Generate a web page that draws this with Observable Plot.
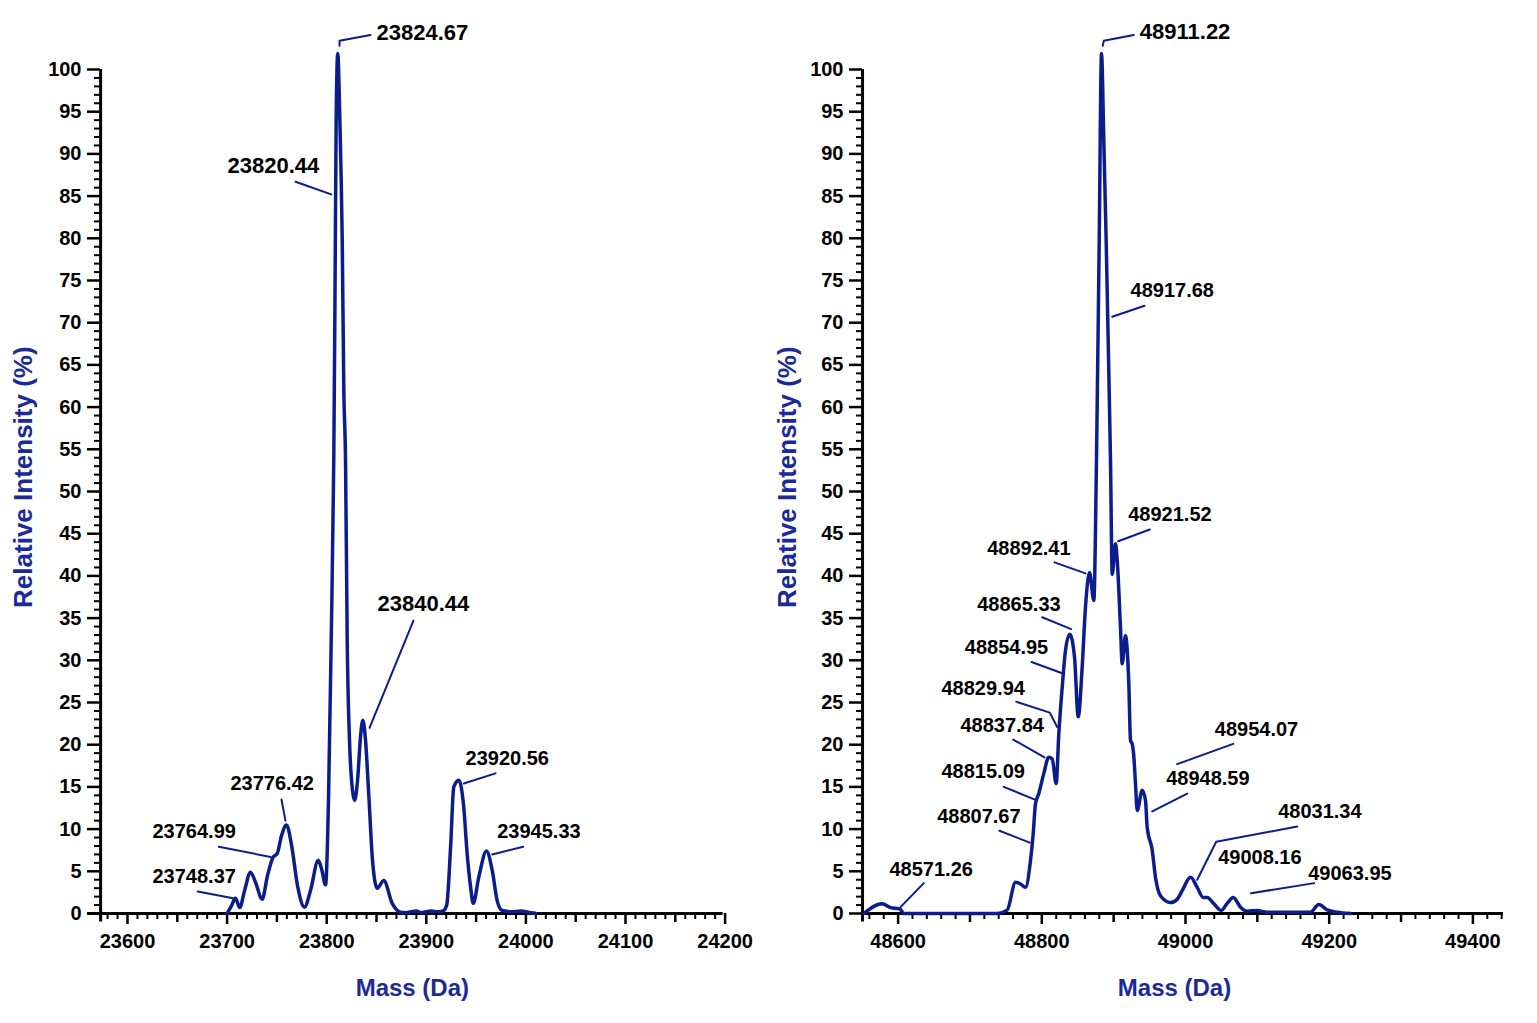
<!DOCTYPE html>
<html>
<head>
<meta charset="utf-8">
<script src="https://cdn.jsdelivr.net/npm/d3@7"></script>
<script src="https://cdn.jsdelivr.net/npm/@observablehq/plot@0.6"></script>
<style>
  html, body { margin: 0; padding: 0; background: #fff; }
  #wrap { position: relative; width: 1537px; height: 1023px; }
  #left, #right { position: absolute; top: 0; }
  #left { left: 0; }
  #right { left: 768px; }
</style>
</head>
<body>
<div id="wrap"><div id="left"></div><div id="right"></div></div>
<script>
// ---------- Left spectrum (~23.8 kDa) ----------
const leftMass = [23700.0, 23704.4, 23708.4, 23712.7, 23717.5, 23723.5, 23728.5, 23735.2, 23740.6, 23746.3,
  23750.3, 23754.6, 23759.6, 23764.7, 23770.7, 23777.7, 23783.7, 23791.5, 23794.8, 23798.8,
  23801.8, 23804.5, 23807.1, 23808.3, 23809.5, 23811.1, 23813.2, 23815.6, 23817.2, 23818.9,
  23820.6, 23822.9, 23825.9, 23828.0, 23831.0, 23834.0, 23836.3, 23839.0, 23842.0, 23846.0,
  23850.7, 23857.3, 23865.8, 23874.0, 23880.0, 23890.0, 23895.0, 23905.0, 23912.0, 23917.0,
  23920.5, 23924.4, 23927.6, 23932.6, 23937.6, 23941.0, 23944.4, 23947.1, 23952.7, 23960.4,
  23966.2, 23971.2, 23976.2, 23985.0, 23995.0, 24005.0, 24009.6];
const leftIntensity = [0.0, 0.9, 1.8, 0.7, 2.7, 4.9, 3.7, 1.7, 4.5, 6.7,
  7.1, 9.2, 10.5, 8.1, 3.3, 0.75, 2.7, 6.3, 5.3, 3.4,
  13.4, 32.3, 53.7, 72.6, 94.0, 101.9, 94.0, 79.7, 62.0, 53.7,
  32.3, 20.5, 14.6, 13.4, 15.8, 21.0, 22.9, 20.5, 14.6, 6.3,
  3.0, 3.9, 1.2, 0.15, 0.1, 0.3, 0.1, 0.3, 0.2, 0.3,
  1.0, 7.9, 15.0, 15.8, 12.6, 7.1, 3.2, 1.2, 4.3, 7.4,
  5.1, 1.5, 0.35, 0.2, 0.3, 0.1, 0.04];

// peak labels: text, label x (mass), label y (intensity)
const leftBigLabels = ["23824.67", "23820.44", "23840.44"];
const leftBigLabelX = [23850.0, 23700.4, 23851.0];
const leftBigLabelY = [104.3, 88.6, 36.7];
const leftSmallLabels = ["23776.42", "23764.99", "23748.37", "23920.56", "23945.33"];
const leftSmallLabelX = [23703.4, 23625.1, 23625.1, 23939.4, 23971.2];
const leftSmallLabelY = [15.4, 9.7, 4.4, 18.4, 9.7];
// leader lines (polyline id, mass, intensity)
const leftLeaderId = [0, 0, 0, 1, 1, 2, 2, 3, 3, 4, 4, 5, 5, 6, 6, 7, 7];
const leftLeaderX = [23812.9, 23812.9, 23844.0, 23768.7, 23804.5, 23887.1, 23843.0, 23754.6, 23758.6,
  23691.7, 23743.6, 23670.6, 23706.1, 23937.6, 23969.5, 23966.2, 23997.3];
const leftLeaderY = [102.8, 103.4, 104.1, 86.7, 85.2, 34.7, 22.0, 13.5, 11.0,
  7.9, 6.7, 2.6, 1.8, 15.4, 16.6, 7.0, 7.9];

// ---------- Right spectrum (~48.9 kDa) ----------
const rightMass = [48552.3, 48577.9, 48589.4, 48602.4, 48607.9, 48737.9, 48751.8, 48763.4, 48770.4, 48777.3,
  48784.3, 48788.0, 48791.2, 48795.8, 48802.8, 48809.7, 48814.5, 48820.0, 48823.7, 48828.4,
  48833.0, 48839.0, 48845.5, 48850.7, 48856.2, 48860.8, 48866.4, 48872.4, 48876.1, 48879.9,
  48883.1, 48886.3, 48889.6, 48893.3, 48895.6, 48898.0, 48902.6, 48905.0, 48909.5, 48911.9,
  48916.5, 48918.9, 48921.1, 48923.5, 48925.8, 48928.0, 48930.4, 48932.8, 48939.7, 48944.3,
  48946.7, 48953.7, 48958.2, 48965.2, 48979.1, 48988.5, 48995.4, 49007.0, 49016.3, 49024.6,
  49030.2, 49039.4, 49049.7, 49058.0, 49066.4, 49076.6, 49085.9, 49099.8, 49113.7, 49174.0,
  49185.5, 49197.2, 49211.1, 49229.6];
const rightIntensity = [0.0, 1.15, 0.7, 0.55, 0.0, 0.0, 0.4, 3.7, 3.5, 3.1,
  6.3, 9.4, 13.0, 14.2, 16.6, 18.5, 18.3, 15.4, 21.3, 26.8,
  31.2, 33.1, 30.4, 23.3, 29.2, 36.3, 40.4, 37.1, 53.7, 79.7,
  101.9, 91.6, 79.7, 64.0, 53.7, 40.2, 43.8, 41.8, 33.9, 29.6,
  32.9, 31.2, 27.2, 20.5, 20.1, 18.7, 15.4, 12.2, 14.6, 13.4,
  10.2, 7.5, 4.3, 2.1, 1.3, 1.7, 2.7, 4.3, 3.1, 1.9,
  1.9, 1.15, 0.36, 1.2, 1.9, 0.75, 0.27, 0.36, 0.15, 0.15,
  1.07, 0.44, 0.15, 0.0];

const rightBigLabels = ["48911.22"];
const rightBigLabelX = [48936.4];
const rightBigLabelY = [104.4];
const rightSmallLabels = ["48917.68", "48921.52", "48892.41", "48865.33", "48854.95", "48829.94", "48837.84",
  "48815.09", "48807.67", "48571.26", "48954.07", "48948.59", "48031.34", "49008.16", "49063.95"];
const rightSmallLabelX = [48923.5, 48920.3, 48724.0, 48710.1, 48692.8, 48660.4, 48686.8,
  48660.4, 48654.4, 48588.0, 49040.8, 48973.1, 49129.0, 49045.5, 49170.8];
const rightSmallLabelY = [73.8, 47.3, 43.2, 36.6, 31.5, 26.7, 22.3,
  16.8, 11.5, 5.2, 21.8, 16.0, 12.1, 6.6, 4.7];
const rightLeaderId = [0, 0, 0, 1, 1, 2, 2, 3, 3, 4, 4, 5, 5, 6, 6, 6, 7, 7, 8, 8, 9, 9, 10, 10, 11, 11,
  12, 12, 13, 13, 13, 14, 14];
const rightLeaderX = [48884.9, 48886.3, 48928.0, 48898.0, 48943.0, 48906.3, 48950.3, 48817.7, 48860.8,
  48800.6, 48840.9, 48785.7, 48827.4, 48764.4, 48811.1, 48821.4, 48760.2, 48803.8, 48747.1, 48790.3,
  48741.1, 48783.3, 48635.8, 48603.3, 48988.4, 49066.4, 48953.7, 49002.4, 49016.3, 49042.7, 49155.5,
  49091.2, 49179.1];
const rightLeaderY = [102.8, 103.4, 104.1, 70.7, 72.0, 44.1, 45.5, 41.6, 40.3,
  35.1, 33.7, 29.8, 28.5, 25.1, 23.8, 22.1, 20.6, 18.5, 15.0, 13.5,
  9.8, 8.4, 3.6, 0.75, 17.7, 20.1, 12.1, 14.2, 4.0, 8.5, 10.3,
  2.4, 3.6];

// ---------- Axes ----------
const yMajor = d3.range(0, 101, 5);
const yMinor = d3.range(0, 101, 1).filter(v => v % 5 !== 0);
const leftXMajor = [23600, 23700, 23800, 23900, 24000, 24100, 24200];
const leftXMid = [23650, 23750, 23850, 23950, 24050, 24150];
const leftXMinor = d3.range(23580, 24201, 10).filter(v => v % 50 !== 0);
const rightXMajor = [48600, 48800, 49000, 49200, 49400];
const rightXMid = [48700, 48900, 49100, 49300];
const rightXMinor = d3.range(48560, 49441, 20).filter(v => v % 100 !== 0);

const xTitle = "Mass (Da)";
const yTitle = "Relative Intensity (%)";

const LINE = "#0b1d8c";
const TITLE = "#1b2a98";
const FONT = "'Liberation Sans', Arial, Helvetica, sans-serif";

function panel(o) {
  const curve = o.mass.map((m, i) => ({m, v: o.inten[i]}));
  const leaders = o.leadId.map((id, i) => ({id, m: o.leadX[i], v: o.leadY[i]}));
  const big = o.bigT.map((t, i) => ({t, m: o.bigX[i], v: o.bigY[i]}));
  const small = o.smallT.map((t, i) => ({t, m: o.smallX[i], v: o.smallY[i]}));
  return Plot.plot({
    width: o.width,
    height: 1023,
    marginLeft: o.marginLeft,
    marginRight: o.marginRight,
    marginTop: 69,
    marginBottom: 110,
    style: {fontFamily: FONT, fontSize: "20px", fontWeight: "bold", color: "#000", background: "transparent", overflow: "visible"},
    x: {domain: o.xDomain, range: o.xRange},
    y: {domain: [0, 100]},
    marks: [
      // axis lines
      Plot.ruleY([0], {x1: o.axisStart, x2: o.axisEnd, stroke: "#000", strokeWidth: 3}),
      Plot.ruleX([o.yAxisAt], {y1: -1, y2: 100, stroke: "#000", strokeWidth: 3}),
      // y ticks
      Plot.axisY(yMajor, {anchor: "left", tickSize: 13, tickPadding: 6, strokeWidth: 2.5, fontSize: 20, fontWeight: "bold", label: null}),
      Plot.axisY(yMinor, {anchor: "left", tickSize: 6, strokeWidth: 2, tickFormat: () => "", label: null}),
      // x ticks
      Plot.axisX(o.xMajor, {anchor: "bottom", tickSize: 11, tickPadding: 9, strokeWidth: 2.5, fontSize: 20, fontWeight: "bold", tickFormat: d => String(d), label: null}),
      Plot.axisX(o.xMid, {anchor: "bottom", tickSize: 9, strokeWidth: 2.5, tickFormat: () => "", label: null}),
      Plot.axisX(o.xMinor, {anchor: "bottom", tickSize: 6, strokeWidth: 2, tickFormat: () => "", label: null}),
      // spectrum
      Plot.line(curve, {x: "m", y: "v", stroke: LINE, strokeWidth: 3.5, curve: "monotone-x", strokeLinejoin: "round"}),
      // leader lines
      Plot.line(leaders, {x: "m", y: "v", z: "id", stroke: LINE, strokeWidth: 2}),
      // peak labels
      Plot.text(big, {x: "m", y: "v", text: "t", textAnchor: "start", lineAnchor: "middle", fontSize: 22, fontWeight: "bold", fill: "#000"}),
      Plot.text(small, {x: "m", y: "v", text: "t", textAnchor: "start", lineAnchor: "middle", fontSize: 20, fontWeight: "bold", fill: "#000"}),
      // axis titles
      Plot.text([xTitle], {x: o.xTitleAt, frameAnchor: "bottom", dy: 75, lineAnchor: "middle", fontSize: 24, fontWeight: "bold", fill: TITLE}),
      Plot.text([yTitle], {y: 51.7, frameAnchor: "left", dx: o.yTitleDx, rotate: -90, textAnchor: "middle", lineAnchor: "middle", fontSize: 26, fontWeight: "bold", fill: TITLE})
    ]
  });
}

document.getElementById("left").append(panel({
  width: 768, marginLeft: 100, marginRight: 46,
  xDomain: [23600, 24200], xRange: [127, 724.6],
  axisStart: 23560, axisEnd: 24198, yAxisAt: 23573,
  xMajor: leftXMajor, xMid: leftXMid, xMinor: leftXMinor,
  mass: leftMass, inten: leftIntensity,
  leadId: leftLeaderId, leadX: leftLeaderX, leadY: leftLeaderY,
  bigT: leftBigLabels, bigX: leftBigLabelX, bigY: leftBigLabelY,
  smallT: leftSmallLabels, smallX: leftSmallLabelX, smallY: leftSmallLabelY,
  xTitleAt: 23886, yTitleDx: -77
}));

document.getElementById("right").append(panel({
  width: 769, marginLeft: 94, marginRight: 34,
  xDomain: [48600, 49400], xRange: [129.6, 704.4],
  axisStart: 48550.5, axisEnd: 49442.6, yAxisAt: 48550.5,
  xMajor: rightXMajor, xMid: rightXMid, xMinor: rightXMinor,
  mass: rightMass, inten: rightIntensity,
  leadId: rightLeaderId, leadX: rightLeaderX, leadY: rightLeaderY,
  bigT: rightBigLabels, bigX: rightBigLabelX, bigY: rightBigLabelY,
  smallT: rightSmallLabels, smallX: rightSmallLabelX, smallY: rightSmallLabelY,
  xTitleAt: 48984.7, yTitleDx: -75
}));
</script>
</body>
</html>
